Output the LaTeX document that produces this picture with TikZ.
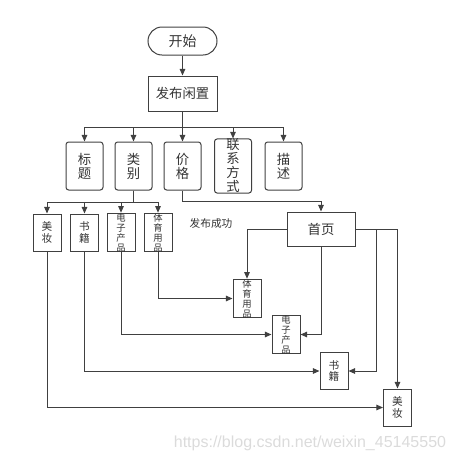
\documentclass[tikz,border=0pt]{standalone}
\usepackage{fontspec}
\setmainfont{Noto Sans CJK SC}
\newfontfamily\wmfont{Liberation Sans}
\usetikzlibrary{arrows.meta}
\definecolor{ln}{HTML}{404040}
\definecolor{tx}{HTML}{333333}
\tikzset{
  box/.style={draw=ln, line width=0.75pt, inner sep=0pt, text=tx, align=center},
  big/.style={box, minimum width=69*0.75pt, minimum height=35*0.75pt, font=\fontsize{10}{12}\selectfont},
  col/.style={box, rounded corners=2pt, minimum width=37*0.75pt, minimum height=48*0.75pt, font=\fontsize{10}{10.5}\selectfont},
  sub/.style={box, minimum width=28*0.75pt, minimum height=37*0.75pt, font=\fontsize{8}{8.7}\selectfont},
  subs/.style={box, minimum width=28*0.75pt, minimum height=37*0.75pt, font=\fontsize{7}{7.5}\selectfont},
  arr/.style={draw=ln, line width=0.75pt, -{Triangle[length=5pt,width=4.2pt]}},
  ln/.style={draw=ln, line width=0.75pt},
}
\begin{document}
\begin{tikzpicture}[x=0.75pt,y=-0.75pt]
\useasboundingbox (0,0) rectangle (455,461);
\node[box, rounded corners=10.5pt, minimum width=69*0.75pt, minimum height=28*0.75pt, font=\fontsize{10.5}{12}\selectfont] (start) at (182.5,41) {开始};
\node[big] (fb) at (182.5,93.5) {发布闲置};
\node[col] (bt) at (84.5,166) {标\\题};
\node[col] (lb) at (133.5,166) {类\\别};
\node[col] (jg) at (182.5,166) {价\\格};
\node[col] (lx) at (233,166) {联\\系\\方\\式};
\node[col] (ms) at (283.5,166) {描\\述};
\node[sub] (mz1) at (47,232.5) {美\\妆};
\node[sub] (sj1) at (84.5,232.5) {书\\籍};
\node[subs] (dz1) at (121,232.5) {电\\子\\产\\品};
\node[subs] (ty1) at (158,232.5) {体\\育\\用\\品};
\node[big, minimum width=68*0.75pt, minimum height=34*0.75pt] (sy) at (321,229) {首页};
\node[text=tx, inner sep=0pt, font=\fontsize{8}{9}\selectfont] (cg) at (211,223) {发布成功};
\node[subs] (ty2) at (247,298.5) {体\\育\\用\\品};
\node[subs] (dz2) at (286,334.5) {电\\子\\产\\品};
\node[sub] (sj2) at (334,371) {书\\籍};
\node[sub] (mz2) at (397.5,407.5) {美\\妆};
\node[text=black!14, inner sep=0pt, font=\wmfont\fontsize{12}{13}\selectfont] (wm) at (310,443) {https://blog.csdn.net/weixin\_45145550};
\coordinate (b1) at (182.5,127);
\coordinate (b2) at (133.5,202);
\coordinate (b3) at (182.5,201);
\coordinate (j1) at (376,229);
\draw[arr] (start) -- (fb);
\foreach \t in {bt,lb,lx,ms} \draw[arr] (fb.south) -- (b1) -| (\t.north);
\draw[arr] (fb) -- (jg);
\foreach \t in {mz1,sj1,dz1,ty1} \draw[arr] (lb.south) -- (b2) -| (\t.north);
\draw[arr] (jg.south) -- (b3) -| (sy.north);
\draw[arr] (sy.west) -| (ty2.north);
\draw[arr] (sy.south) |- (dz2.east);
\draw[arr] (sy.east) -| (mz2.north);
\draw[arr] (j1) |- (sj2.east);
\draw[arr] (ty1.south) |- (ty2.west);
\draw[arr] (dz1.south) |- (dz2.west);
\draw[arr] (sj1.south) |- (sj2.west);
\draw[arr] (mz1.south) |- (mz2.west);
\end{tikzpicture}
\end{document}
